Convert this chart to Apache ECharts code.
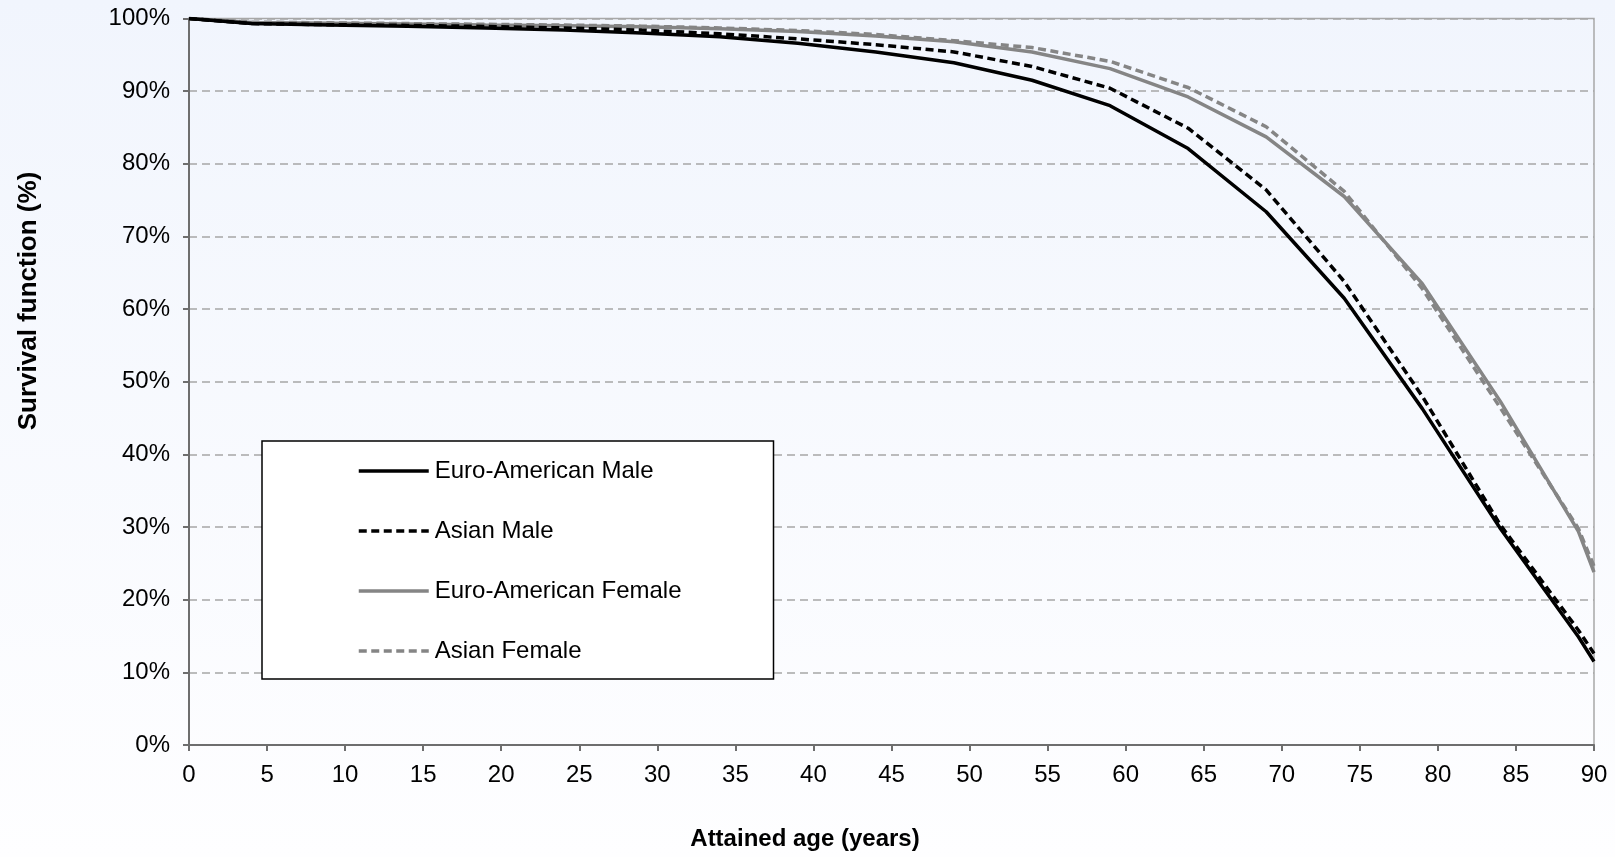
<!DOCTYPE html>
<html>
<head>
<meta charset="utf-8">
<script src="https://cdn.jsdelivr.net/npm/echarts@6/dist/echarts.min.js"></script>
<style>html,body{margin:0;padding:0;}#chart{width:1615px;height:857px;}</style>
</head>
<body>
<div id="chart"></div>
<script>
var ages = [0, 4, 9, 14, 19, 24, 29, 34, 39, 44, 49, 54, 59, 64, 69, 74, 79, 84, 89, 90];
var euroMale = [100, 99.3, 99.1, 98.95, 98.7, 98.4, 98.0, 97.5, 96.6, 95.4, 93.9, 91.5, 88.0, 82.1, 73.4, 61.5, 46.3, 29.8, 14.9, 11.5];
var asianMale = [100, 99.3, 99.15, 99.05, 98.9, 98.7, 98.4, 97.9, 97.2, 96.4, 95.4, 93.4, 90.4, 84.9, 76.4, 63.8, 48.0, 30.3, 15.8, 12.6];
var euroFemale = [100, 99.45, 99.35, 99.25, 99.1, 99.0, 98.85, 98.6, 98.2, 97.6, 96.8, 95.4, 93.1, 89.2, 83.7, 75.5, 63.5, 47.3, 29.4, 23.8];
var asianFemale = [100, 99.5, 99.4, 99.3, 99.2, 99.1, 98.95, 98.7, 98.35, 97.8, 96.95, 96.0, 94.1, 90.5, 85.1, 76.2, 62.8, 46.4, 29.8, 24.6];
var seriesNames = ['Euro-American Male', 'Asian Male', 'Euro-American Female', 'Asian Female'];
var xTicks = [0, 90, 5];
var yTicks = [0, 100, 10];

function pairs(vals) { return ages.map(function (a, i) { return [a, vals[i]]; }); }

var styles = [
  { color: '#000000', type: 'solid' },
  { color: '#000000', type: [8, 4.5] },
  { color: '#858585', type: 'solid' },
  { color: '#858585', type: [8, 4.5] }
];
var allVals = [euroMale, asianMale, euroFemale, asianFemale];
var FONT = 'Liberation Sans, Arial, sans-serif';

var chart = echarts.init(document.getElementById('chart'));
chart.setOption({
  animation: false,
  backgroundColor: {
    type: 'linear', x: 0, y: 0, x2: 0, y2: 1,
    colorStops: [{ offset: 0, color: '#f1f5fd' }, { offset: 1, color: '#fefeff' }]
  },
  textStyle: { fontFamily: FONT },
  grid: { left: 189, right: 21, top: 18.5, bottom: 112, show: true, borderColor: '#a8a8a8', borderWidth: 1.5, backgroundColor: 'transparent' },
  title: {
    text: 'Attained age (years)', left: 800, top: 822,
    textAlign: 'center',
    textStyle: { fontFamily: FONT, fontSize: 24, fontWeight: 'bold', color: '#000' }
  },
  graphic: [{
    type: 'text', x: 29, y: 301, rotation: Math.PI / 2,
    style: { text: 'Survival function (%)', fontFamily: FONT, fontSize: 26, fontWeight: 'bold', fill: '#000', align: 'center', verticalAlign: 'middle' }
  }],
  legend: {
    orient: 'vertical', left: 262, top: 441,
    padding: [18, 92, 16, 95],
    backgroundColor: '#ffffff', borderColor: '#000000', borderWidth: 1.5,
    itemWidth: 70, itemHeight: 20, itemGap: 36,
    itemStyle: { opacity: 0 },
    lineStyle: { width: 3.5 },
    textStyle: { fontSize: 24, color: '#000', lineHeight: 20, padding: [0, 0, 0, 1], fontFamily: FONT },
    data: seriesNames
  },
  xAxis: {
    type: 'value', min: xTicks[0], max: xTicks[1], interval: xTicks[2],
    axisLine: { lineStyle: { color: '#6e6e6e', width: 2 } },
    axisTick: { show: true, length: 6, lineStyle: { color: '#6e6e6e', width: 2 } },
    axisLabel: { fontSize: 24, color: '#000', margin: 18 },
    splitLine: { show: false }
  },
  yAxis: {
    type: 'value', min: yTicks[0], max: yTicks[1], interval: yTicks[2],
    axisLine: { show: true, lineStyle: { color: '#6e6e6e', width: 2 } },
    axisTick: { show: true, length: 6, lineStyle: { color: '#6e6e6e', width: 2 } },
    axisLabel: { fontSize: 24, color: '#000', margin: 19, formatter: '{value}%' },
    splitLine: { show: true, lineStyle: { color: '#a6a6a6', width: 1.5, type: [8, 5] } }
  },
  series: seriesNames.map(function (n, i) {
    return {
      name: n, type: 'line', data: pairs(allVals[i]), symbol: 'none', smooth: false,
      z: 10 - i,
      itemStyle: { color: styles[i].color },
      lineStyle: { color: styles[i].color, width: 3.5, type: styles[i].type }
    };
  })
});
</script>
</body>
</html>
